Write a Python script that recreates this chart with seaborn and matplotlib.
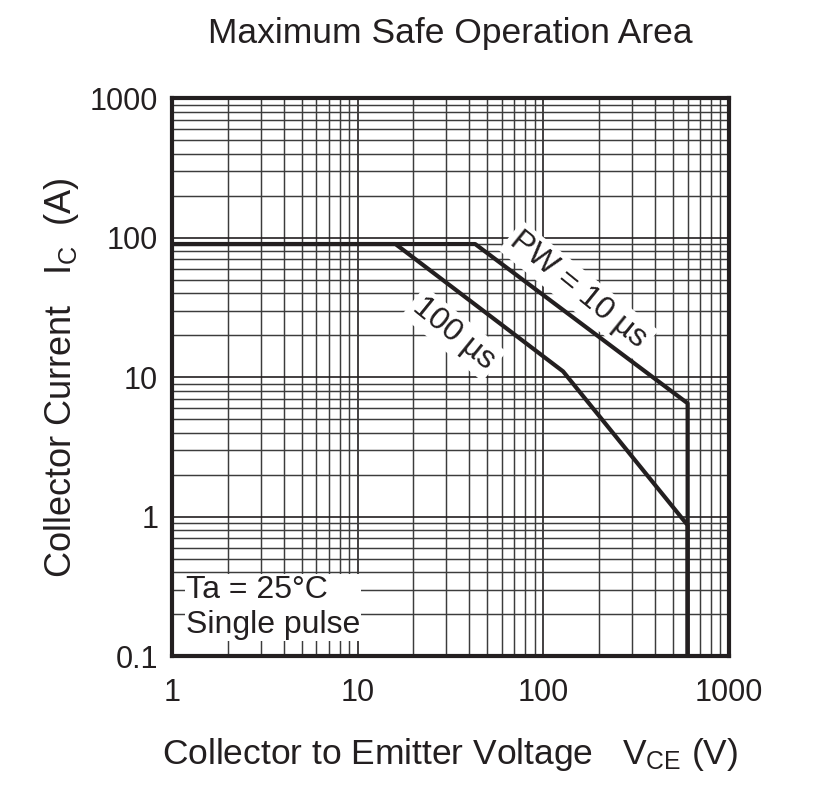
import numpy as np
import pandas as pd
import seaborn as sns
import matplotlib.pyplot as plt
from matplotlib.ticker import LogLocator, FixedLocator

# safe operating area boundaries
pw10_vce = [1, 43, 600, 600]
pw10_ic = [90, 90, 6.5, 0.1]
pw100_vce = [1, 16, 128, 600, 600]
pw100_ic = [90, 90, 11, 0.87, 0.1]

x_ticks = [1, 10, 100, 1000]
x_tick_labels = ["1", "10", "100", "1000"]
y_ticks = [0.1, 1, 10, 100, 1000]
y_tick_labels = ["0.1", "1", "10", "100", "1000"]

if __name__ == '__main__':
    sns.set_style("white")
    plt.rcParams['font.family'] = ['Liberation Sans', 'DejaVu Sans']
    plt.rcParams['mathtext.fontset'] = 'custom'
    plt.rcParams['mathtext.rm'] = 'Liberation Sans'
    plt.rcParams['mathtext.it'] = 'Liberation Sans'

    ink = '#231f20'
    pw10 = pd.DataFrame({"vce": pw10_vce, "ic": pw10_ic})
    pw100 = pd.DataFrame({"vce": pw100_vce, "ic": pw100_ic})

    figure = plt.figure(figsize=(8.31, 7.85), dpi=100)
    axis = figure.add_axes([0.207, 0.164, 0.670, 0.711])
    axis.set_xscale("log")
    axis.set_yscale("log")
    axis.set_xlim(1, 1000)
    axis.set_ylim(0.1, 1000)

    axis.xaxis.set_major_locator(FixedLocator(x_ticks))
    axis.yaxis.set_major_locator(FixedLocator(y_ticks))
    axis.xaxis.set_minor_locator(LogLocator(base=10, subs=np.arange(2, 10)))
    axis.yaxis.set_minor_locator(LogLocator(base=10, subs=np.arange(2, 10)))
    axis.set_xticklabels(x_tick_labels)
    axis.set_yticklabels(y_tick_labels)
    axis.grid(True, which="major", color=ink, linewidth=1.2)
    axis.grid(True, which="minor", color="#3c3c3c", linewidth=1.05)
    axis.set_axisbelow(True)
    axis.tick_params(which="both", length=0, labelsize=22, colors=ink)
    axis.tick_params(axis="x", pad=16)
    axis.tick_params(axis="y", pad=10)

    sns.lineplot(x="vce", y="ic", data=pw10, sort=False, estimator=None,
                 color=ink, linewidth=3, ax=axis)
    sns.lineplot(x="vce", y="ic", data=pw100, sort=False, estimator=None,
                 color=ink, linewidth=3, ax=axis)

    white_box = dict(facecolor="white", edgecolor="none", pad=3)
    axis.text(155, 42, "PW = 10 \u00b5s", rotation=-39, fontsize=23, color=ink,
              ha="center", va="center", rotation_mode="anchor", bbox=white_box)
    axis.text(33, 20.5, "100 \u00b5s", rotation=-39, fontsize=23, color=ink,
              ha="center", va="center", rotation_mode="anchor", bbox=white_box)
    axis.text(0.025, 0.03, "Ta = 25\u00b0C\nSingle pulse", transform=axis.transAxes,
              fontsize=23, color=ink, ha="left", va="bottom", linespacing=1.2,
              bbox=dict(facecolor="white", edgecolor="none", pad=1))

    for spine in axis.spines.values():
        spine.set_color(ink)
        spine.set_linewidth(3)
        spine.set_zorder(5)

    axis.set_xlabel("Collector to Emitter Voltage   V$_{\\rm CE}$ (V)", fontsize=25.5,
                    color=ink, labelpad=20)
    axis.set_ylabel("Collector Current   I$_{\\rm C}$  (A)", fontsize=26,
                    color=ink, labelpad=6)
    axis.set_title("Maximum Safe Operation Area", fontsize=25.5, color=ink, pad=40)

    figure.savefig("out.png", dpi=100)
